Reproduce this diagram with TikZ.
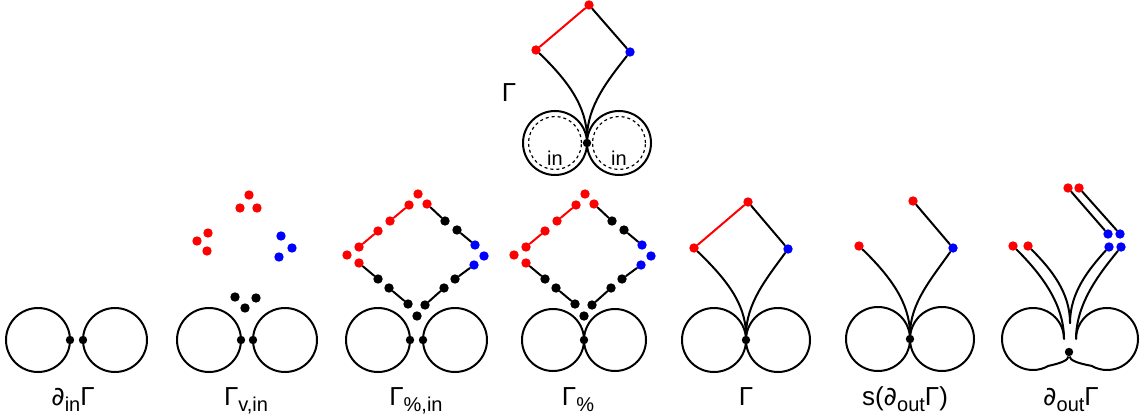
\documentclass[tikz,border=0pt]{standalone}
\usepackage{fontspec}
\setmainfont{Liberation Sans}
\newfontfamily\symfont{DejaVu Sans}
\usepackage{tikz}
\usetikzlibrary{positioning, calc}
\newcommand\lsub[1]{\raisebox{-3pt}{\fontsize{10}{11}\selectfont #1}}
\newcommand\bd{{\symfont ∂}}
\tikzset{
	dot/.style  ={circle, fill=black, inner sep=0pt, minimum size=4.7pt},
	rdot/.style ={dot, fill=red},
	bdot/.style ={dot, fill=blue},
	jdot/.style ={dot, minimum size=4.2pt},
	edge/.style ={line width=1pt, line cap=round},
	redge/.style={edge, red},
	loopc/.style={line width=1pt},
	inc/.style  ={line width=0.6pt, dash pattern=on 1.5pt off 1.5pt},
	lbl/.style  ={font=\fontsize{13}{15}\selectfont, anchor=base},
}
% diamond with every vertex and edge cut open
\newcommand\splitdiamond[2]{%
	\begin{scope}[shift={(#2,0)}]
		% top vertex
		\node[rdot] (#1t0) at (418,224) {};
		\node[rdot] (#1t1) at (409,213) {};
		\node[rdot] (#1t2) at (427,214) {};
		% left vertex
		\node[rdot] (#1l0) at (347,163) {};
		\node[rdot] (#1l1) at (359,171) {};
		\node[rdot] (#1l2) at (359,155) {};
		% right vertex
		\node[bdot] (#1r0) at (484,162) {};
		\node[bdot] (#1r1) at (475,173) {};
		\node[bdot] (#1r2) at (474,153) {};
		% bottom vertex
		\node[dot] (#1b0) at (417,102) {};
		\node[dot] (#1b1) at (408,114) {};
		\node[dot] (#1b2) at (425,113) {};
		% cut edges
		\node[rdot] (#1a1) at (390,197) {};
		\node[rdot] (#1a2) at (378,187) {};
		\node[dot] (#1e1) at (378,139) {};
		\node[dot] (#1e2) at (389,130) {};
		\node[dot] (#1f1) at (444,130) {};
		\node[dot] (#1f2) at (455,139) {};
		\node[dot] (#1g1) at (457,188) {};
		\node[dot] (#1g2) at (445,197) {};
		\draw[redge] (#1t1) -- (#1a1) (#1a2) -- (#1l1);
		\draw[edge] (#1l2) -- (#1e1) (#1e2) -- (#1b1) (#1b2) -- (#1f1)
			(#1f2) -- (#1r2) (#1r1) -- (#1g1) (#1g2) -- (#1t2);
	\end{scope}}

\begin{document}
\begin{tikzpicture}[x=0.5pt, y=0.5pt]
	\useasboundingbox (0,0) rectangle (1143,418);
	% ---- top: the graph with its in-boundary ----
	\node[font=\fontsize{13}{15}\selectfont] (topname) at (509,325) {Γ};
	\draw[loopc] (555,275) circle[radius=32] (619,275) circle[radius=32];
	\draw[inc] (555,275) circle[radius=26.5] (619,275) circle[radius=26.5];
	\node[font=\fontsize{10}{11}\selectfont] (inl) at (555,260) {in};
	\node[font=\fontsize{10}{11}\selectfont] (inr) at (619,260) {in};
	\node[rdot] (tr) at (536,368) {};
	\node[rdot] (tt) at (589,413) {};
	\node[bdot] (tb) at (630,366) {};
	\node[jdot] (tj) at (587,275) {};
	\draw[redge] (tr) -- (tt);
	\draw[edge] (tt) -- (tb);
	\draw[edge] (tr) .. controls (567,338) and (587,312) .. (tj);
	\draw[edge] (tb) .. controls (608,338) and (587,312) .. (tj);

	% ---- 1: in-boundary ----
	\draw[loopc] (38,78) circle[radius=32] (115,78) circle[radius=32];
	\node[jdot] (p1a) at (70,78) {};
	\node[jdot] (p1b) at (83,78) {};
	\node[lbl] (p1name) at (73,13) {\bd\lsub{in}Γ};

	% ---- 2: vertices and in-boundary ----
	\draw[loopc] (209,78) circle[radius=32] (285,78) circle[radius=32];
	\node[jdot] (p2a) at (241,78) {};
	\node[jdot] (p2b) at (253,78) {};
	\node[dot] (v1) at (235,121) {};
	\node[dot] (v2) at (256,120) {};
	\node[dot] (v3) at (245,110) {};
	\node[rdot] (v4) at (249,223) {};
	\node[rdot] (v5) at (240,210) {};
	\node[rdot] (v6) at (257,210) {};
	\node[rdot] (v7) at (208,185) {};
	\node[rdot] (v8) at (197,177) {};
	\node[rdot] (v9) at (207,167) {};
	\node[bdot] (v10) at (281,182) {};
	\node[bdot] (v11) at (292,170) {};
	\node[bdot] (v12) at (279,161) {};
	\node[lbl] (p2name) at (246,13) {Γ\lsub{v,in}};

	% ---- 3: cut graph, in-boundary apart ----
	\splitdiamond{c}{0}
	\draw[loopc] (378,78) circle[radius=32] (455,78) circle[radius=32];
	\node[jdot] (p3a) at (410,78) {};
	\node[jdot] (p3b) at (423,78) {};
	\node[lbl] (p3name) at (416,13) {Γ\lsub{\%,in}};

	% ---- 4: cut graph, in-boundary glued ----
	\splitdiamond{d}{167}
	\draw[loopc] (553,78) circle[radius=31] (615,78) circle[radius=31];
	\node[jdot] (p4j) at (584,78) {};
	\node[lbl] (p4name) at (578,13) {Γ\lsub{\%}};

	% ---- 5: the graph ----
	\draw[loopc] (714,78) circle[radius=32] (778,78) circle[radius=32];
	\node[rdot] (p5r) at (694,170) {};
	\node[rdot] (p5t) at (748,216) {};
	\node[bdot] (p5b) at (788,169) {};
	\node[jdot] (p5j) at (746,78) {};
	\draw[redge] (p5r) -- (p5t);
	\draw[edge] (p5t) -- (p5b);
	\draw[edge] (p5r) .. controls (725,140) and (746,115) .. (p5j);
	\draw[edge] (p5b) .. controls (767,140) and (746,115) .. (p5j);
	\node[lbl] (p5name) at (746,13) {Γ};

	% ---- 6: s of the out-boundary ----
	\draw[loopc] (878,79) circle[radius=32] (942,79) circle[radius=32];
	\node[rdot] (p6l) at (859,172) {};
	\node[rdot] (p6t) at (913,217) {};
	\node[bdot] (p6b) at (953,170) {};
	\node[jdot] (p6j) at (910,79) {};
	\draw[edge] (p6t) -- (p6b);
	\draw[edge] (p6l) .. controls (890,142) and (910,115) .. (p6j);
	\draw[edge] (p6b) .. controls (932,140) and (910,115) .. (p6j);
	\node[lbl] (p6name) at (905,13) {s(\bd\lsub{out}Γ)};

	% ---- 7: out-boundary ----
	\node[rdot] (p7t1) at (1068,230) {};
	\node[rdot] (p7t2) at (1079,230) {};
	\node[bdot] (p7u1) at (1108,184) {};
	\node[bdot] (p7u2) at (1120,184) {};
	\node[bdot] (p7w1) at (1109,171) {};
	\node[bdot] (p7w2) at (1121,171) {};
	\node[rdot] (p7l1) at (1013,172) {};
	\node[rdot] (p7l2) at (1028,172) {};
	\node[jdot] (p7j) at (1069,66) {};
	\coordinate (p7a) at (1064,79);
	\coordinate (p7c) at (1070,95);
	\coordinate (p7d) at (1076,79);
	\draw[edge] (p7t1) -- (p7u1) (p7t2) -- (p7u2);
	\draw[edge] (p7l1) .. controls (1040,145) and (1064,115) .. (p7a);
	\draw[edge] (p7l2) .. controls (1052,148) and (1070,125) .. (p7c);
	\draw[edge] (p7w1) .. controls (1088,148) and (1070,125) .. (p7c);
	\draw[edge] (p7w2) .. controls (1100,145) and (1076,115) .. (p7d);
	\draw[loopc] (p7a) arc[start angle=0, end angle=300, radius=31]
		.. controls (1062,55) and (1068,58) .. (p7j);
	\draw[loopc] (p7d) arc[start angle=180, end angle=-120, radius=31]
		.. controls (1076,55) and (1070,58) .. (p7j);
	\node[lbl] (p7name) at (1071,13) {\bd\lsub{out}Γ};
\end{tikzpicture}
\end{document}
